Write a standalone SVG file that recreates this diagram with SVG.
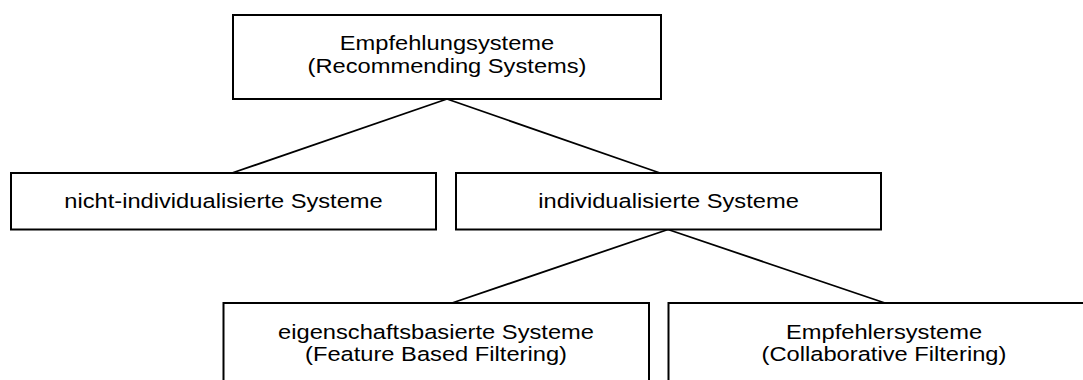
<svg xmlns="http://www.w3.org/2000/svg" width="1083" height="380" viewBox="0 0 1083 380">
  <style>
    .box { fill: #ffffff; stroke: #000000; stroke-width: 2; }
    .edge { stroke: #000000; stroke-width: 1.8; fill: none; }
    .lbl { font-family: "Liberation Sans", Arial, sans-serif; font-size: 19.5px; fill: #000000; text-anchor: middle; }
  </style>
  <rect x="0" y="0" width="1083" height="380" fill="#ffffff"/>
  <g id="connectors">
    <line class="edge" x1="447" y1="99" x2="232" y2="173"/>
    <line class="edge" x1="447" y1="99" x2="660" y2="173"/>
    <line class="edge" x1="668" y1="229.5" x2="452" y2="303"/>
    <line class="edge" x1="668" y1="229.5" x2="885" y2="303"/>
  </g>
  <g id="root">
    <rect class="box" x="233" y="15" width="428" height="84"/>
    <text class="lbl" transform="translate(447,50) scale(1.215,1)">Empfehlungsysteme</text>
    <text class="lbl" transform="translate(447,72.5) scale(1.215,1)">(Recommending Systems)</text>
  </g>
  <g id="nicht-individualisiert">
    <rect class="box" x="11" y="173" width="425" height="56.5"/>
    <text class="lbl" transform="translate(223.5,207.7) scale(1.215,1)">nicht-individualisierte Systeme</text>
  </g>
  <g id="individualisiert">
    <rect class="box" x="456" y="173" width="425" height="56.5"/>
    <text class="lbl" transform="translate(668.5,207.7) scale(1.215,1)">individualisierte Systeme</text>
  </g>
  <g id="eigenschaftsbasiert">
    <rect class="box" x="223.5" y="303" width="425.5" height="100"/>
    <text class="lbl" transform="translate(436,338.5) scale(1.215,1)">eigenschaftsbasierte Systeme</text>
    <text class="lbl" transform="translate(436,360.5) scale(1.215,1)">(Feature Based Filtering)</text>
  </g>
  <g id="empfehlersysteme">
    <rect class="box" x="668.5" y="303" width="431" height="100"/>
    <text class="lbl" transform="translate(884,339) scale(1.215,1)">Empfehlersysteme</text>
    <text class="lbl" transform="translate(884,360.5) scale(1.215,1)">(Collaborative Filtering)</text>
  </g>
</svg>
